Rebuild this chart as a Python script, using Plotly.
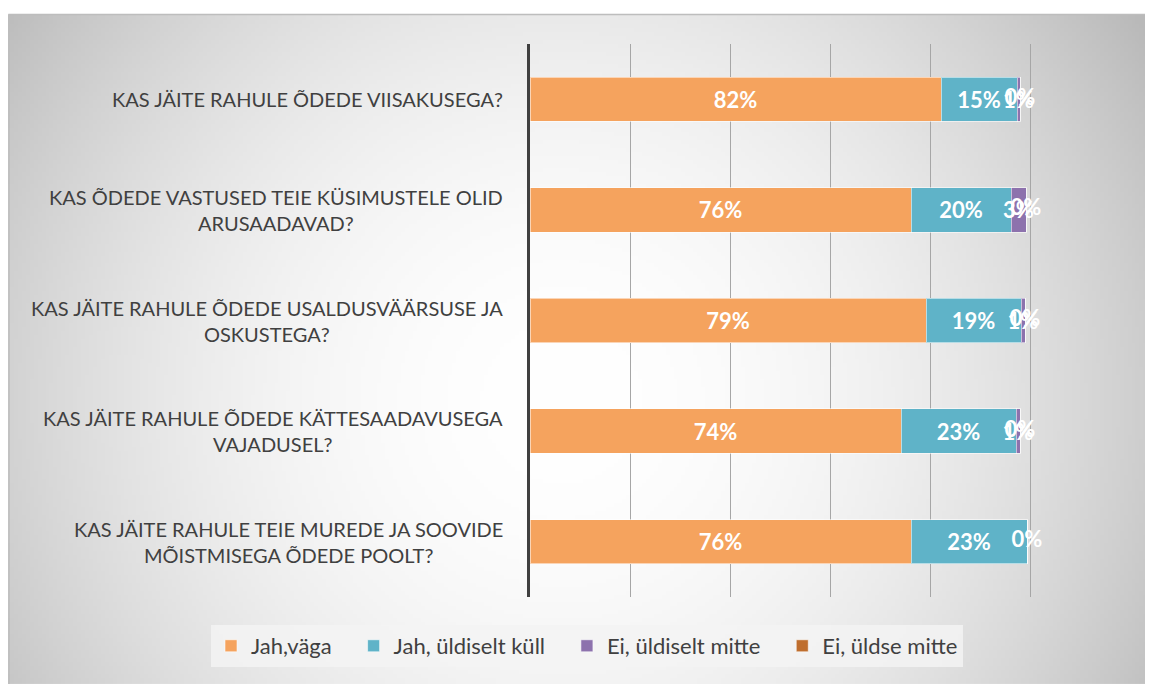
import base64
import struct
import zlib

import numpy as np
import plotly.graph_objects as go

# ---------------- data ----------------
categories = [
    "KAS JÄITE RAHULE ÕDEDE VIISAKUSEGA?",
    "KAS ÕDEDE VASTUSED TEIE KÜSIMUSTELE OLID<br>ARUSAADAVAD?",
    "KAS JÄITE RAHULE ÕDEDE USALDUSVÄÄRSUSE JA<br>OSKUSTEGA?",
    "KAS JÄITE RAHULE ÕDEDE KÄTTESAADAVUSEGA<br>VAJADUSEL?",
    "KAS JÄITE RAHULE TEIE MUREDE JA SOOVIDE<br>MÕISTMISEGA ÕDEDE POOLT?",
]
series_names = ["Jah,väga", "Jah, üldiselt küll", "Ei, üldiselt mitte", "Ei, üldse mitte"]
jah_vaga = [0.822, 0.762, 0.792, 0.742, 0.762]
jah_uldiselt = [0.152, 0.200, 0.190, 0.230, 0.232]
ei_uldiselt = [0.006, 0.030, 0.008, 0.008, 0.0]
ei_uldse = [0.0, 0.0, 0.0, 0.0, 0.0]
series_values = [jah_vaga, jah_uldiselt, ei_uldiselt, ei_uldse]
colors = ["#F5A35E", "#5FB3C8", "#8D72AD", "#BF6E2E"]

# ---------------- geometry (figure px; page is offset by 8px body margin) ----------------
FW, FH = 1145, 676
L, R, T, B = 522, 1122, 35.6, 589
pw, ph = R - L, B - T


def px_x(x):
    return (x - L) / pw


def px_y(y):
    return (B - y) / ph


# ---------------- background gradient image ----------------
W, H = 290, 168
X0, Y0, X1, Y1 = 0, 6, FW, FH
yy, xx = np.mgrid[0:H, 0:W]
gx = xx * ((X1 - X0) / W) + X0 + 8
gy = yy * ((Y1 - Y0) / H) + Y0 + 8
dx = (gx - 560) / 600
dy = (gy - 400) / 600
v = np.clip(255 - 52 * (dx ** 2 + dy ** 2), 185, 255).astype(np.uint8)
raw = b"".join(b"\x00" + row.tobytes() for row in v)


def chunk(t, d):
    return struct.pack(">I", len(d)) + t + d + struct.pack(">I", zlib.crc32(t + d) & 0xFFFFFFFF)


png = (b"\x89PNG\r\n\x1a\n" + chunk(b"IHDR", struct.pack(">IIBBBBB", W, H, 8, 0, 0, 0, 0))
       + chunk(b"IDAT", zlib.compress(raw)) + chunk(b"IEND", b""))
src = "data:image/png;base64," + base64.b64encode(png).decode()

label_font = dict(family="Lato", size=22, color="white", weight="bold")
legend_pad = "&nbsp;" * 3

# ---------------- figure ----------------
fig = go.Figure()
for i, (name, vals, col) in enumerate(zip(series_names, series_values, colors)):
    has_text = any(v > 0 for v in vals)
    fig.add_trace(go.Bar(
        y=categories, x=vals, orientation="h",
        name=name + (legend_pad if i < len(series_names) - 1 else ""),
        marker=dict(color=col, line=dict(color="rgba(255,255,255,0.55)", width=1)),
        texttemplate="%{x:.0%}" if has_text else "", textposition="inside",
        insidetextanchor="middle", textangle=0,
        textfont=label_font, cliponaxis=False, hoverinfo="x+y",
    ))

# data labels for the zero-width last series, placed at the end of each stack
stack_end = [sum(vals) for vals in zip(*series_values)]
fig.add_trace(go.Scatter(
    x=stack_end, y=categories, mode="text",
    text=[f"{v:.0%}" for v in ei_uldse],
    textposition="middle center", textfont=label_font,
    showlegend=False, hoverinfo="skip", cliponaxis=False,
))

annotations = []
for c in categories:
    annotations.append(dict(
        x=px_x(497), xref="paper", y=c, yref="y", text=c, showarrow=False,
        xanchor="right", yanchor="middle", align="center",
        font=dict(family="Lato", size=20, color="#404040"),
    ))

fig.update_layout(
    width=FW, height=FH,
    margin=dict(l=L, r=FW - R, t=T, b=FH - B, pad=0, autoexpand=False),
    barmode="stack", bargap=0.6,
    paper_bgcolor="white", plot_bgcolor="rgba(0,0,0,0)",
    uniformtext=dict(minsize=22, mode="show"),
    showlegend=True,
    legend=dict(
        orientation="h", xref="paper", yref="paper",
        x=px_x(203), xanchor="left", y=px_y(617), yanchor="top",
        bgcolor="rgba(243,243,243,0.85)", borderwidth=0,
        font=dict(family="Lato", size=22, color="#404040"),
        traceorder="normal", itemwidth=30,
    ),
    xaxis=dict(range=[0, 1.2], dtick=0.2, tick0=0, showticklabels=False,
               showgrid=True, gridcolor="#A6A6A6", gridwidth=1,
               zeroline=False, showline=False, ticks=""),
    yaxis=dict(categoryorder="array", categoryarray=categories, autorange="reversed",
               showticklabels=False, showgrid=False, zeroline=False,
               showline=True, linecolor="#404040", linewidth=3, ticks=""),
    annotations=annotations,
    images=[dict(source=src, xref="paper", yref="paper",
                 x=px_x(X0), y=px_y(Y0), sizex=(X1 - X0) / pw, sizey=(Y1 - Y0) / ph,
                 xanchor="left", yanchor="top", sizing="stretch", layer="below")],
    shapes=[dict(type="rect", xref="paper", yref="paper",
                 x0=px_x(X0 + 1), x1=px_x(X1 + 5), y0=px_y(Y1 + 5), y1=px_y(Y0),
                 line=dict(color="#BDBDBD", width=1.5), fillcolor="rgba(0,0,0,0)",
                 layer="below")],
    font=dict(family="Lato", color="#404040"),
)

fig.write_html("out.html")
